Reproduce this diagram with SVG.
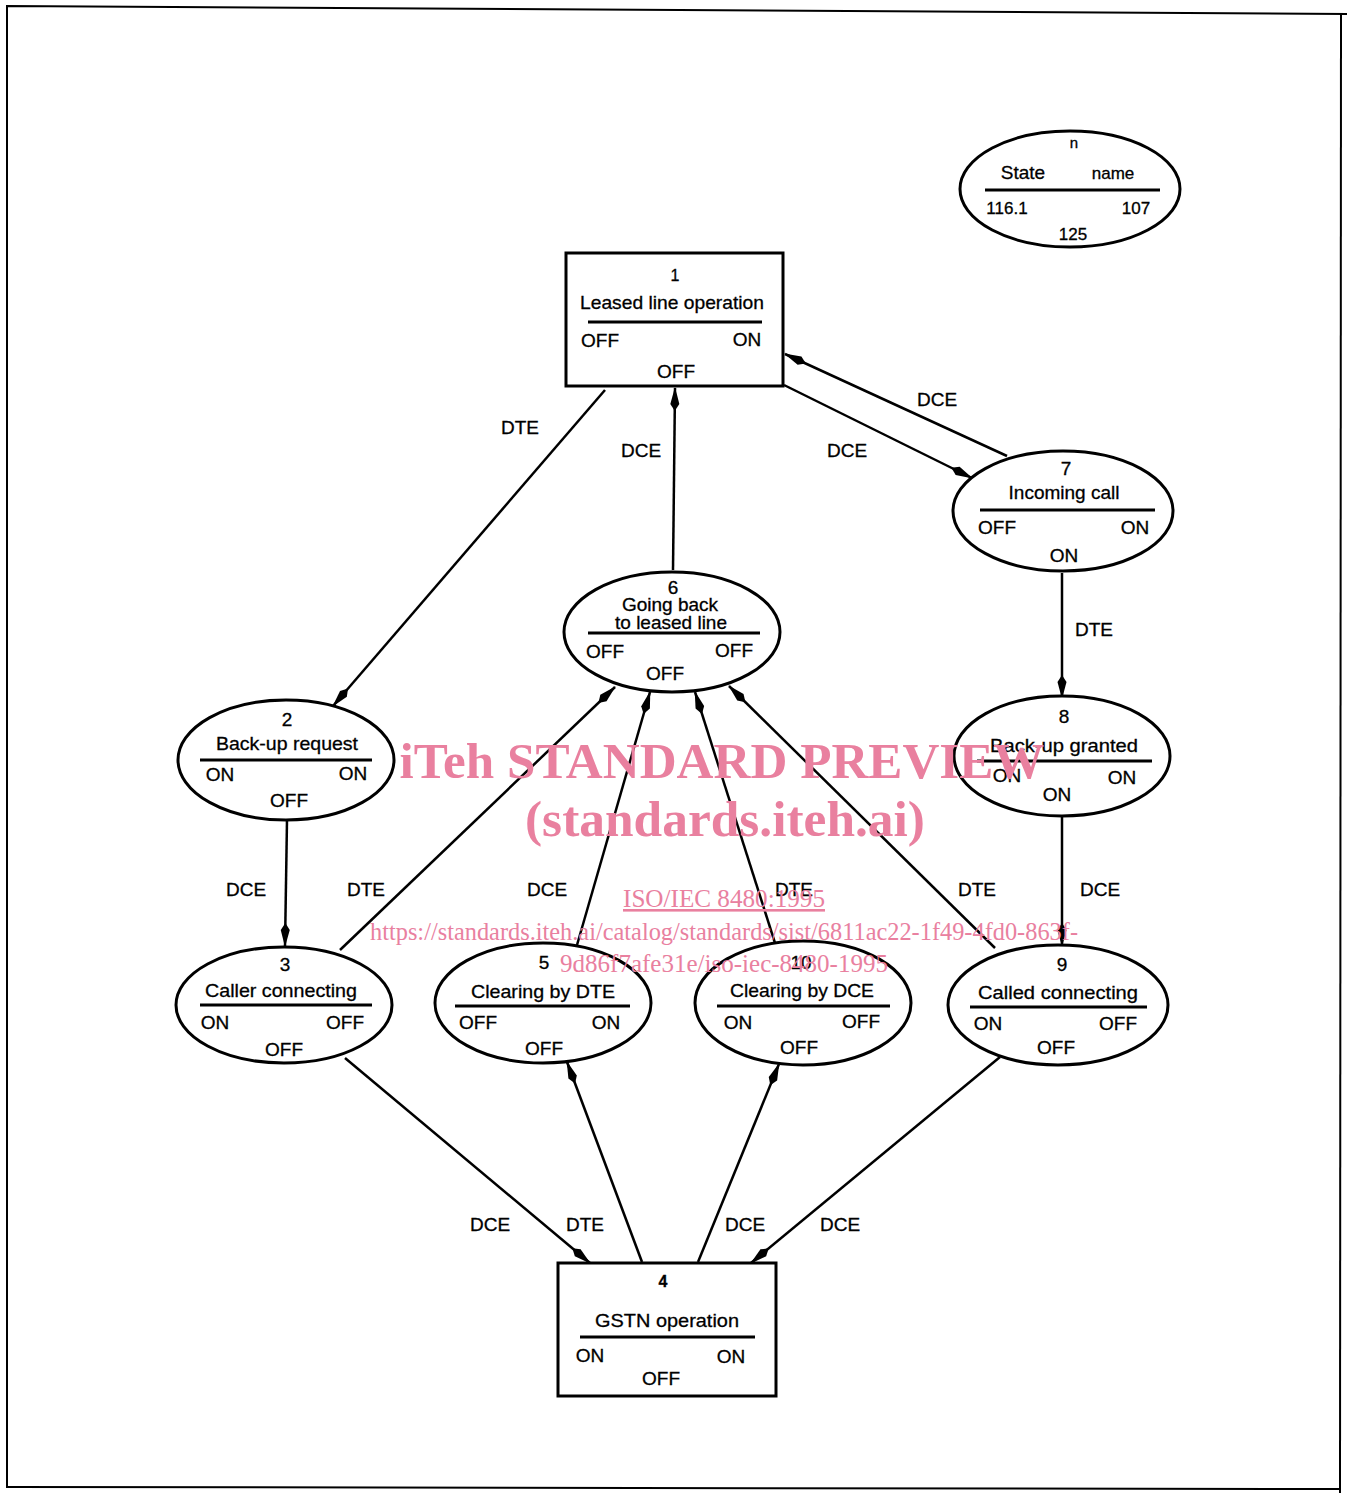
<svg xmlns="http://www.w3.org/2000/svg" width="1347" height="1493" viewBox="0 0 1347 1493">
<defs>
<style>
.n{fill:#fff;stroke:#000;stroke-width:3}
.sep{stroke:#000;stroke-width:3}
.t{font-family:"Liberation Sans",Arial,sans-serif;font-size:19px;fill:#000;text-anchor:middle;stroke:#000;stroke-width:0.3}
.lbl{font-family:"Liberation Sans",Arial,sans-serif;font-size:19px;fill:#000;text-anchor:middle;stroke:#000;stroke-width:0.3}
.c{stroke:#000;stroke-width:2.5;fill:none;marker-end:url(#ah)}
.wm{font-family:"Liberation Serif","Times New Roman",serif;fill:#e9809f;text-anchor:middle}
</style>
<marker id="ah" viewBox="0 0 24 10" refX="23" refY="5" markerWidth="24" markerHeight="10" markerUnits="userSpaceOnUse" orient="auto">
<path d="M0,5 L7,0.5 L24,5 L7,9.5 Z" fill="#000"/>
</marker>
</defs>
<rect width="1347" height="1493" fill="#fff"/>
<g id="frame" fill="none" stroke="#000" stroke-width="2">
<path d="M7,1488 L7,6 L1347,14"/>
<path d="M1341,14 L1340,1493"/>
<path d="M7,1487 L1340,1489"/>
</g>
<g id="connectors">
<line class="c" x1="605" y1="390" x2="333" y2="706"/>
<line class="c" x1="673" y1="570" x2="675" y2="388"/>
<line class="c" x1="784" y1="385" x2="972" y2="478"/>
<line class="c" x1="1007" y1="456" x2="785" y2="354"/>
<line class="c" x1="1062" y1="573" x2="1062" y2="698"/>
<line class="c" x1="287" y1="820" x2="285" y2="946"/>
<line class="c" x1="340" y1="950" x2="615" y2="687"/>
<line class="c" x1="577" y1="945" x2="650" y2="692"/>
<line class="c" x1="775" y1="943" x2="695" y2="692"/>
<line class="c" x1="995" y1="948" x2="729" y2="686"/>
<line class="c" x1="1062" y1="816" x2="1062" y2="946"/>
<line class="c" x1="345" y1="1058" x2="590" y2="1263"/>
<line class="c" x1="642" y1="1262" x2="567" y2="1062"/>
<line class="c" x1="698" y1="1262" x2="779" y2="1064"/>
<line class="c" x1="1000" y1="1057" x2="751" y2="1263"/>
<g id="conn-labels">
<text class="lbl" x="520" y="434">DTE</text>
<text class="lbl" x="641" y="457">DCE</text>
<text class="lbl" x="847" y="457">DCE</text>
<text class="lbl" x="937" y="406">DCE</text>
<text class="lbl" x="1094" y="636">DTE</text>
<text class="lbl" x="246" y="896">DCE</text>
<text class="lbl" x="366" y="896">DTE</text>
<text class="lbl" x="547" y="896">DCE</text>
<text class="lbl" x="794" y="896">DTE</text>
<text class="lbl" x="977" y="896">DTE</text>
<text class="lbl" x="1100" y="896">DCE</text>
<text class="lbl" x="490" y="1231">DCE</text>
<text class="lbl" x="585" y="1231">DTE</text>
<text class="lbl" x="745" y="1231">DCE</text>
<text class="lbl" x="840" y="1231">DCE</text>
</g>
</g>
<g id="legend">
<ellipse class="n" cx="1070" cy="189" rx="110" ry="58"/>
<line class="sep" x1="985" y1="190" x2="1160" y2="190"/>
<text class="t" x="1074" y="148" style="font-size:15px">n</text>
<text class="t" x="1023" y="179">State</text>
<text class="t" x="1113" y="179" style="font-size:17px">name</text>
<text class="t" x="1007" y="214" style="font-size:17px">116.1</text>
<text class="t" x="1136" y="214" style="font-size:17px">107</text>
<text class="t" x="1073" y="240" style="font-size:17px">125</text>
</g>
<g id="node1">
<rect class="n" x="566" y="253" width="217" height="133"/>
<line class="sep" x1="588" y1="322" x2="762" y2="322"/>
<text class="t" x="675" y="281" style="font-size:16px">1</text>
<text class="t" x="672" y="309" textLength="184" lengthAdjust="spacingAndGlyphs">Leased line operation</text>
<text class="t" x="600" y="347">OFF</text>
<text class="t" x="747" y="346">ON</text>
<text class="t" x="676" y="378">OFF</text>
</g>
<g id="node7">
<ellipse class="n" cx="1063" cy="511" rx="110" ry="60"/>
<line class="sep" x1="980" y1="510" x2="1155" y2="510"/>
<text class="t" x="1066" y="475">7</text>
<text class="t" x="1064" y="499">Incoming call</text>
<text class="t" x="997" y="534">OFF</text>
<text class="t" x="1135" y="534">ON</text>
<text class="t" x="1064" y="562">ON</text>
</g>
<g id="node6">
<ellipse class="n" cx="672" cy="632" rx="108" ry="60"/>
<line class="sep" x1="588" y1="633" x2="760" y2="633"/>
<text class="t" x="673" y="594">6</text>
<text class="t" x="670" y="611">Going back</text>
<text class="t" x="671" y="629">to leased line</text>
<text class="t" x="605" y="658">OFF</text>
<text class="t" x="734" y="657">OFF</text>
<text class="t" x="665" y="680">OFF</text>
</g>
<g id="node2">
<ellipse class="n" cx="286" cy="760" rx="108" ry="60"/>
<line class="sep" x1="200" y1="760" x2="372" y2="760"/>
<text class="t" x="287" y="726">2</text>
<text class="t" x="287" y="750" textLength="142" lengthAdjust="spacingAndGlyphs">Back-up request</text>
<text class="t" x="220" y="781">ON</text>
<text class="t" x="353" y="780">ON</text>
<text class="t" x="289" y="807">OFF</text>
</g>
<g id="node8">
<ellipse class="n" cx="1062" cy="756" rx="108" ry="60"/>
<line class="sep" x1="977" y1="761" x2="1152" y2="761"/>
<text class="t" x="1064" y="723">8</text>
<text class="t" x="1064" y="752" textLength="148" lengthAdjust="spacingAndGlyphs">Back-up granted</text>
<text class="t" x="1007" y="782">ON</text>
<text class="t" x="1122" y="784">ON</text>
<text class="t" x="1057" y="801">ON</text>
</g>
<g id="node3">
<ellipse class="n" cx="284" cy="1005" rx="108" ry="58"/>
<line class="sep" x1="200" y1="1005" x2="372" y2="1005"/>
<text class="t" x="285" y="971">3</text>
<text class="t" x="281" y="997" textLength="152" lengthAdjust="spacingAndGlyphs">Caller connecting</text>
<text class="t" x="215" y="1029">ON</text>
<text class="t" x="345" y="1029">OFF</text>
<text class="t" x="284" y="1056">OFF</text>
</g>
<g id="node5">
<ellipse class="n" cx="543" cy="1003" rx="108" ry="60"/>
<line class="sep" x1="455" y1="1006" x2="630" y2="1006"/>
<text class="t" x="544" y="969">5</text>
<text class="t" x="543" y="998" textLength="144" lengthAdjust="spacingAndGlyphs">Clearing by DTE</text>
<text class="t" x="478" y="1029">OFF</text>
<text class="t" x="606" y="1029">ON</text>
<text class="t" x="544" y="1055">OFF</text>
</g>
<g id="node10">
<ellipse class="n" cx="803" cy="1003" rx="108" ry="62"/>
<line class="sep" x1="717" y1="1006" x2="890" y2="1006"/>
<text class="t" x="801" y="969">10</text>
<text class="t" x="802" y="997" textLength="144" lengthAdjust="spacingAndGlyphs">Clearing by DCE</text>
<text class="t" x="738" y="1029">ON</text>
<text class="t" x="861" y="1028">OFF</text>
<text class="t" x="799" y="1054">OFF</text>
</g>
<g id="node9">
<ellipse class="n" cx="1058" cy="1005" rx="110" ry="60"/>
<line class="sep" x1="970" y1="1007" x2="1147" y2="1007"/>
<text class="t" x="1062" y="971">9</text>
<text class="t" x="1058" y="999" textLength="160" lengthAdjust="spacingAndGlyphs">Called connecting</text>
<text class="t" x="988" y="1030">ON</text>
<text class="t" x="1118" y="1030">OFF</text>
<text class="t" x="1056" y="1054">OFF</text>
</g>
<g id="node4">
<rect class="n" x="558" y="1263" width="218" height="133"/>
<line class="sep" x1="580" y1="1337" x2="755" y2="1337"/>
<text class="t" x="663" y="1287" style="font-size:16px;font-weight:bold">4</text>
<text class="t" x="667" y="1327" textLength="144" lengthAdjust="spacingAndGlyphs">GSTN operation</text>
<text class="t" x="590" y="1362">ON</text>
<text class="t" x="731" y="1363">ON</text>
<text class="t" x="661" y="1385">OFF</text>
</g>
<g id="watermark">
<text class="wm" x="722" y="778" style="font-size:50px;font-weight:bold" textLength="645" lengthAdjust="spacingAndGlyphs">iTeh STANDARD PREVIEW</text>
<text class="wm" x="725" y="836" style="font-size:50px;font-weight:bold" textLength="400" lengthAdjust="spacingAndGlyphs">(standards.iteh.ai)</text>
<text class="wm" x="724" y="907" style="font-size:26px;text-decoration:underline" textLength="202" lengthAdjust="spacingAndGlyphs">ISO/IEC 8480:1995</text>
<text class="wm" x="724" y="940" style="font-size:26px" textLength="708" lengthAdjust="spacingAndGlyphs">https://standards.iteh.ai/catalog/standards/sist/6811ac22-1f49-4fd0-863f-</text>
<text class="wm" x="724" y="972" style="font-size:26px" textLength="328" lengthAdjust="spacingAndGlyphs">9d86f7afe31e/iso-iec-8480-1995</text>
</g>
</svg>
